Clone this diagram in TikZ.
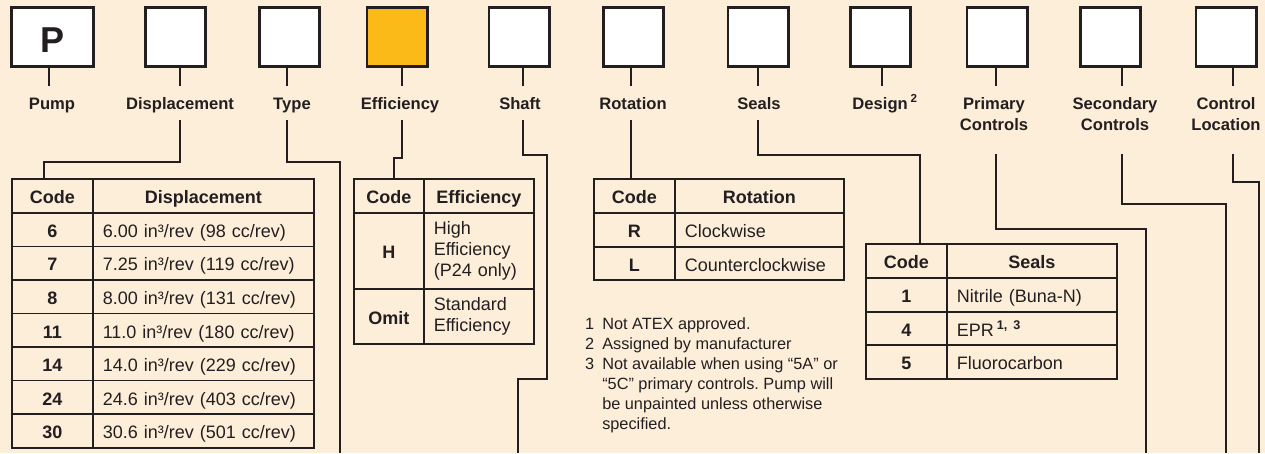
\documentclass[tikz,border=0pt]{standalone}
\usepackage{fontspec}
\setmainfont{Liberation Sans}
\frenchspacing
\definecolor{bg}{RGB}{253,238,217}
\definecolor{ink}{RGB}{35,31,32}
\definecolor{gold}{RGB}{251,186,24}
\newcommand\labfont{\fontsize{16.6}{21}\selectfont\bfseries}
\newcommand\tabfont{\fontsize{18}{21}\selectfont}
\newcommand\notefont{\fontsize{16.3}{20}\selectfont}
\begin{document}
\begin{tikzpicture}[x=1pt,y=-1pt,
 topbox/.style={draw=ink, line width=2.6pt, fill=white, minimum width=60.4pt, minimum height=59.4pt, inner sep=0pt},
 lab/.style={font=\labfont, text=ink, inner xsep=0pt, inner ysep=11pt, anchor=north, text height=12pt, text depth=0pt},
 labtwo/.style={font=\labfont, text=ink, inner xsep=0pt, inner ysep=11pt, anchor=north, align=center},
 conn/.style={draw=ink, line width=2.6pt},
 cell/.style={draw=ink, line width=1.6pt, inner sep=0pt, anchor=north west, font=\tabfont, text=ink},
 one/.style={text height=15.5pt, text depth=0pt},
 codec/.style={cell, one, font=\tabfont\bfseries},
 headc/.style={cell, one, font=\tabfont\bfseries},
 descc/.style={cell, one, inner xsep=10pt},
 multic/.style={cell, inner xsep=10pt, align=left},
]
\useasboundingbox (0,0) rectangle (1265,453);
\fill[bg] (0,0) rectangle (1265,453);

% ---------- top boxes ----------
\node[topbox, minimum width=82.4pt, font=\fontsize{36}{36}\selectfont\bfseries, text=ink, text height=30.8pt, text depth=0pt] (pump) at (52.5,37) {P};
\node[topbox] (disp) at (175.5,37) {};
\node[topbox] (type) at (289.5,37) {};
\node[topbox, fill=gold] (eff) at (397,37) {};
\node[topbox] (shaft) at (519,37) {};
\node[topbox] (rot) at (633.5,37) {};
\node[topbox] (seals) at (758,37) {};
\node[topbox] (design) at (880.5,37) {};
\node[topbox] (prim) at (997,37) {};
\node[topbox] (sec) at (1110.5,37) {};
\node[topbox] (ctrl) at (1226,37) {};

% ---------- labels ----------
\node[lab] (pumpL) at (52,86) {Pump};
\node[lab] (dispL) at (180,86) {Displacement};
\node[lab] (typeL) at (292,86) {Type};
\node[lab] (effL) at (400,86) {Efficiency};
\node[lab] (shaftL) at (520,86) {Shaft};
\node[lab] (rotL) at (633,86) {Rotation};
\node[lab] (sealsL) at (759,86) {Seals};
\node[lab] (designL) at (885,86) {Design\,\textsuperscript{2}};
\node[labtwo] (primL) at (994,86) {Primary\\Controls};
\node[labtwo] (secL) at (1115,86) {Secondary\\Controls};
\node[labtwo] (ctrlL) at (1226,86) {Control\\Location};

% ---------- stubs ----------
\draw[conn] (pump.south -| 49,0) -- (pumpL.north -| 49,0);
\draw[conn] (disp.south -| 180,0) -- (dispL.north -| 180,0);
\draw[conn] (type.south -| 287,0) -- (typeL.north -| 287,0);
\draw[conn] (eff.south -| 402,0) -- (effL.north -| 402,0);
\draw[conn] (shaft.south -| 523,0) -- (shaftL.north -| 523,0);
\draw[conn] (rot.south -| 631,0) -- (rotL.north -| 631,0);
\draw[conn] (seals.south -| 758,0) -- (sealsL.north -| 758,0);
\draw[conn] (design.south -| 882,0) -- (designL.north -| 882,0);
\draw[conn] (prim.south -| 996,0) -- (primL.north -| 996,0);
\draw[conn] (sec.south -| 1122,0) -- (secL.north -| 1122,0);
\draw[conn] (ctrl.south -| 1233,0) -- (ctrlL.north -| 1233,0);

% ---------- Displacement table ----------
\node[headc, minimum width=81pt, minimum height=34pt] (dH1) at (11,178) {Code};
\node[headc, minimum width=221pt, minimum height=34pt] (dH2) at (92,178) {Displacement};
\node[codec, minimum width=81pt, minimum height=33.57pt] (d1a) at (11,212) {6};
\node[descc, text width=201pt, minimum height=33.57pt] (d1b) at (92,212) {6.00 in³/rev (98 cc/rev)};
\node[codec, minimum width=81pt, minimum height=33.57pt] (d2a) at (11,245.57) {7};
\node[descc, text width=201pt, minimum height=33.57pt] (d2b) at (92,245.57) {7.25 in³/rev (119 cc/rev)};
\node[codec, minimum width=81pt, minimum height=33.57pt] (d3a) at (11,279.14) {8};
\node[descc, text width=201pt, minimum height=33.57pt] (d3b) at (92,279.14) {8.00 in³/rev (131 cc/rev)};
\node[codec, minimum width=81pt, minimum height=33.57pt] (d4a) at (11,312.71) {11};
\node[descc, text width=201pt, minimum height=33.57pt] (d4b) at (92,312.71) {11.0 in³/rev (180 cc/rev)};
\node[codec, minimum width=81pt, minimum height=33.57pt] (d5a) at (11,346.29) {14};
\node[descc, text width=201pt, minimum height=33.57pt] (d5b) at (92,346.29) {14.0 in³/rev (229 cc/rev)};
\node[codec, minimum width=81pt, minimum height=33.57pt] (d6a) at (11,379.86) {24};
\node[descc, text width=201pt, minimum height=33.57pt] (d6b) at (92,379.86) {24.6 in³/rev (403 cc/rev)};
\node[codec, minimum width=81pt, minimum height=33.57pt] (d7a) at (11,413.43) {30};
\node[descc, text width=201pt, minimum height=33.57pt] (d7b) at (92,413.43) {30.6 in³/rev (501 cc/rev)};

% ---------- Efficiency table ----------
\node[headc, minimum width=70pt, minimum height=34pt] (eH1) at (353,178) {Code};
\node[headc, minimum width=110pt, minimum height=34pt] (eH2) at (423,178) {Efficiency};
\node[codec, minimum width=70pt, minimum height=76pt] (e1a) at (353,212) {H};
\node[multic, text width=90pt, minimum height=76pt] (e1b) at (423,212) {High\\Efficiency\\(P24 only)};
\node[codec, minimum width=70pt, minimum height=55pt] (e2a) at (353,288) {Omit};
\node[multic, text width=90pt, minimum height=55pt] (e2b) at (423,288) {Standard\\Efficiency};

% ---------- Rotation table ----------
\node[headc, minimum width=81pt, minimum height=34pt] (rH1) at (593,178) {Code};
\node[headc, minimum width=169pt, minimum height=34pt] (rH2) at (674,178) {Rotation};
\node[codec, minimum width=81pt, minimum height=34pt] (r1a) at (593,212) {R};
\node[descc, text width=149pt, minimum height=34pt] (r1b) at (674,212) {Clockwise};
\node[codec, minimum width=81pt, minimum height=33pt] (r2a) at (593,246) {L};
\node[descc, text width=149pt, minimum height=33pt] (r2b) at (674,246) {Counterclockwise};

% ---------- Seals table ----------
\node[headc, minimum width=81pt, minimum height=34pt] (sH1) at (865,243) {Code};
\node[headc, minimum width=170pt, minimum height=34pt] (sH2) at (946,243) {Seals};
\node[codec, minimum width=81pt, minimum height=34pt] (s1a) at (865,277) {1};
\node[descc, text width=150pt, minimum height=34pt] (s1b) at (946,277) {Nitrile (Buna-N)};
\node[codec, minimum width=81pt, minimum height=33pt] (s2a) at (865,311) {4};
\node[descc, text width=150pt, minimum height=33pt] (s2b) at (946,311) {EPR\,\textsuperscript{\bfseries 1, 3}};
\node[codec, minimum width=81pt, minimum height=34pt] (s3a) at (865,344) {5};
\node[descc, text width=150pt, minimum height=34pt] (s3b) at (946,344) {Fluorocarbon};

% ---------- footnotes ----------
\node[anchor=base west, inner sep=0pt, font=\notefont, text=ink] (notes) at (585,329)
 {\begin{tabular}[t]{@{}r@{\hspace{8pt}}l@{}}
 1 & Not ATEX approved.\\
 2 & Assigned by manufacturer\\
 3 & Not available when using “5A” or\\
   & “5C” primary controls. Pump will\\
   & be unpainted unless otherwise\\
   & specified.
 \end{tabular}};

% ---------- connectors ----------
\coordinate (typeEnd) at (340,453);
\coordinate (shaftEnd) at (518,453);
\coordinate (primEnd) at (1146,453);
\coordinate (secEnd) at (1226,453);
\coordinate (ctrlEnd) at (1259,453);
\draw[conn] (dispL.south -| 180,0) -- (180,162) -| (dH1.north -| 44,0);
\draw[conn] (typeL.south -| 287,0) |- (340,162) -- (typeEnd);
\draw[conn] (effL.south -| 402,0) -- (402,158) -| (eH1.north -| 394,0);
\draw[conn] (shaftL.south -| 523,0) |- (547,155) -- (547,379) -| (shaftEnd);
\draw[conn] (rotL.south -| 631,0) -- (rH1.north -| 631,0);
\draw[conn] (sealsL.south -| 758,0) |- (920,155) -- (sH2.north -| 920,0);
\draw[conn, shorten <=12pt] (primL.south -| 996,0) |- (1146,229) -- (primEnd);
\draw[conn, shorten <=12pt] (secL.south -| 1122,0) |- (1226,204) -- (secEnd);
\draw[conn, shorten <=12pt] (ctrlL.south -| 1233,0) |- (1259,182) -- (ctrlEnd);
\end{tikzpicture}
\end{document}
